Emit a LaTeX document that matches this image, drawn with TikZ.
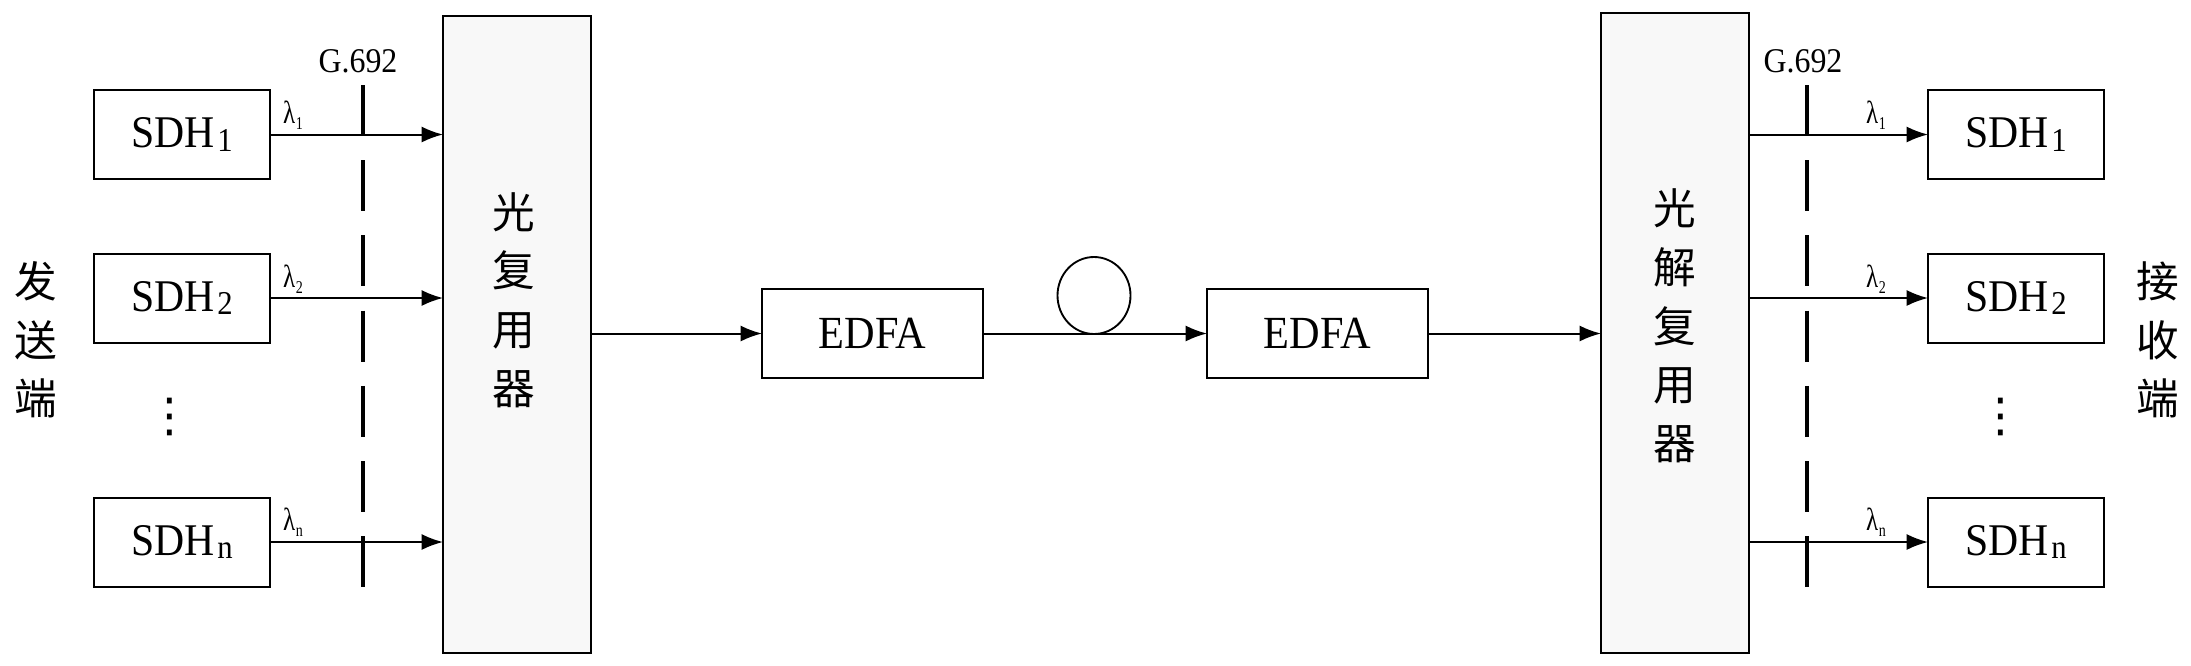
\documentclass[tikz,border=0pt]{standalone}
\usepackage{fontspec}
\setmainfont{Liberation Serif}[FakeStretch=0.92]
\newfontfamily\cjk{Noto Sans CJK SC}
\newfontfamily\lamfont{Liberation Serif}[FakeStretch=0.78]
\newfontfamily\dotfont{DejaVu Sans}
\usetikzlibrary{arrows.meta,shapes.geometric}
\definecolor{muxfill}{RGB}{248,248,248}
\newcommand\mysub[1]{\kern2pt\raisebox{-2.3pt}{\fontsize{25}{25}\selectfont #1}}
\newcommand\lsub[1]{\kern0.5pt\raisebox{-5pt}{\fontsize{13.5}{14}\selectfont #1}}
\begin{document}
\begin{tikzpicture}[x=0.75pt,y=-0.75pt,
  every node/.style={inner sep=0pt, outer sep=0pt},
  sdh/.style={draw, line width=1.5pt, minimum width=132pt, minimum height=66.75pt, font=\fontsize{34}{40}\selectfont},
  edfa/.style={draw, line width=1.5pt, minimum width=165.75pt, minimum height=66.75pt, font=\fontsize{34.5}{40}\selectfont},
  mux/.style={draw, line width=1.5pt, fill=muxfill, minimum width=111pt},
  cjkv/.style={align=center, font=\cjk\fontsize{32}{44}\selectfont},
  lam/.style={anchor=base west, font=\lamfont\fontsize{24}{26}\selectfont},
  gl/.style={font=\fontsize{26}{28}\selectfont},
  vdot/.style={font=\dotfont\fontsize{35}{40}\selectfont},
  conn/.style={line width=1.5pt, -{Latex[length=16pt,width=12pt]}},
  g692/.style={line width=2.6pt, dash pattern=on 38.3pt off 18.1pt},
  loopc/.style={draw, ellipse, line width=1.4pt, minimum width=54.75pt, minimum height=57.75pt},
]
\useasboundingbox (0,0) rectangle (2191,665);
% sending side
\node[sdh] (s1) at (182,134.5) {SDH\mysub{1}};
\node[sdh] (s2) at (182,298) {SDH\mysub{2}};
\node[sdh] (sn) at (182,542) {SDH\mysub{n}};
\node[vdot] (sdots) at (170,417) {⋮};
\node[cjkv] (send) at (36,340) {发\\送\\端};
\node[mux, minimum height=477.75pt] (mux) at (517,334.5) {};
\node[cjkv] (muxt) at (514,300) {光\\复\\用\\器};
\coordinate (gl1) at (363,85);
\coordinate (gl2) at (363,587);
\draw[g692] (gl1) -- (gl2);
\node[gl] (g1) at (358,61) {G.692};
\node[lam] (la1) at (283,123) {λ\lsub{1}};
\node[lam] (la2) at (283,287) {λ\lsub{2}};
\node[lam] (lan) at (283,530) {λ\lsub{n}};
\draw[conn] (s1.east) -- (s1.east -| mux.west);
\draw[conn] (s2.east) -- (s2.east -| mux.west);
\draw[conn] (sn.east) -- (sn.east -| mux.west);
% line
\node[edfa] (e1) at (872.5,333.5) {EDFA};
\node[edfa] (e2) at (1317.5,333.5) {EDFA};
\node[loopc, anchor=south] (loop) at (1094,334) {};
\draw[conn] (mux.east |- e1.west) -- (e1.west);
\draw[conn] (e1.east) -- (e2.west);
\draw[line width=2.2pt] (loop.south) -- (loop.south -| loop.east);
% receiving side
\node[mux, minimum height=480pt] (dmx) at (1675,333) {};
\node[cjkv] (dmxt) at (1675,326) {光\\解\\复\\用\\器};
\draw[conn] (e2.east) -- (e2.east -| dmx.west);
\node[sdh] (r1) at (2016,134.5) {SDH\mysub{1}};
\node[sdh] (r2) at (2016,298) {SDH\mysub{2}};
\node[sdh] (rn) at (2016,542) {SDH\mysub{n}};
\node[vdot] (rdots) at (2001,417) {⋮};
\node[cjkv] (recv) at (2158,340) {接\\收\\端};
\coordinate (gr1) at (1807,85);
\coordinate (gr2) at (1807,587);
\draw[g692] (gr1) -- (gr2);
\node[gl] (g2) at (1803,61) {G.692};
\node[lam] (lb1) at (1866,123) {λ\lsub{1}};
\node[lam] (lb2) at (1866,287) {λ\lsub{2}};
\node[lam] (lbn) at (1866,530) {λ\lsub{n}};
\draw[conn] (dmx.east |- r1.west) -- (r1.west);
\draw[conn] (dmx.east |- r2.west) -- (r2.west);
\draw[conn] (dmx.east |- rn.west) -- (rn.west);
\end{tikzpicture}
\end{document}
